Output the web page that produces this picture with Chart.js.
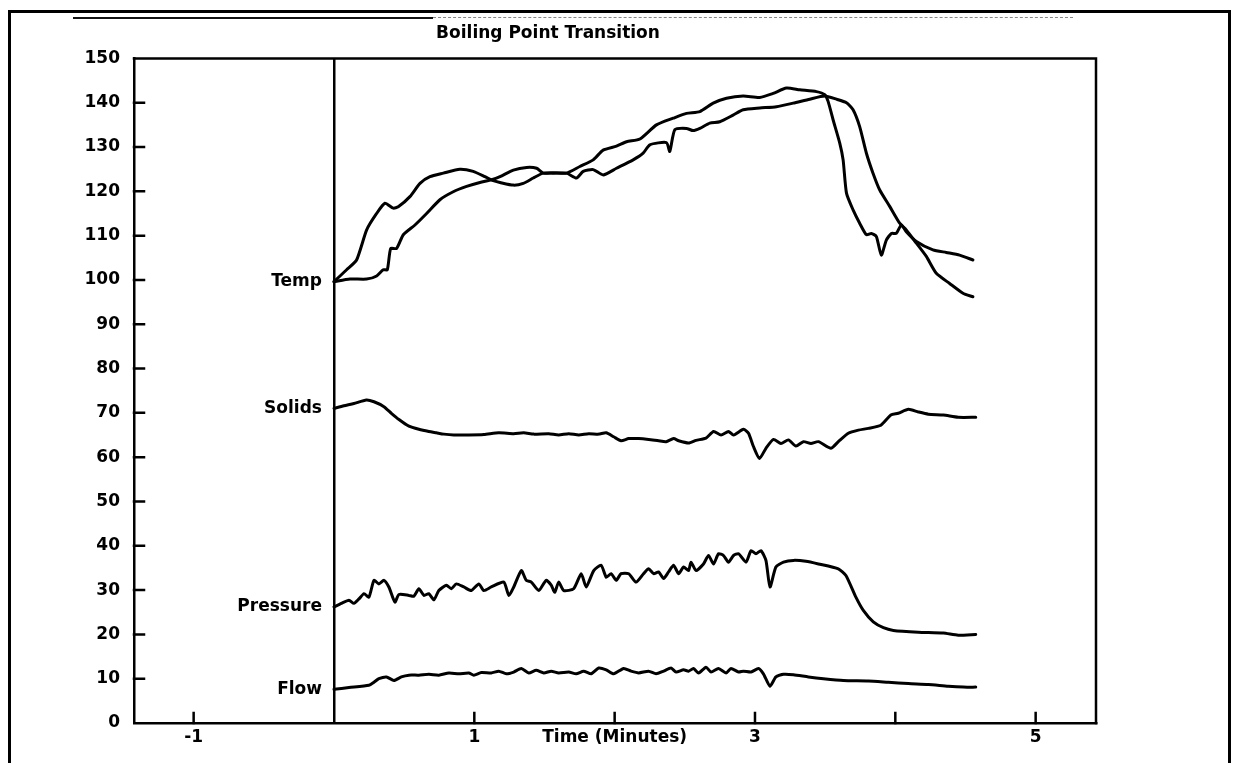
<!DOCTYPE html>
<html>
<head>
<meta charset="utf-8">
<script src="https://cdn.jsdelivr.net/npm/chart.js@4.4.1/dist/chart.umd.min.js"></script>
<style>
    html, body { margin: 0; padding: 0; background: #fff; overflow: hidden; }
    body { width: 1239px; height: 763px; position: relative; }
    #frame {
        position: absolute; left: 8px; top: 10px; width: 1217px; height: 800px;
        border: 3px solid #000; border-bottom: none;
    }
    #scan1 { position: absolute; left: 73px; top: 17px; width: 360px; border-top: 2px solid #111; }
    #scan2 { position: absolute; left: 433px; top: 17px; width: 640px; border-top: 1px dashed #888; }
    canvas { position: absolute; left: 0; top: 0; }
</style>
</head>
<body>
<div id="frame"></div>
<div id="scan1"></div>
<div id="scan2"></div>
<canvas id="chart" width="1134" height="763"></canvas>
<script>
// time in minutes
const tempAT = [0, 0.09, 0.161, 0.233, 0.304, 0.363, 0.423, 0.458, 0.541, 0.613, 0.684, 0.779, 0.897, 0.992, 1.076, 1.135, 1.183, 1.278, 1.349, 1.42, 1.491, 1.562, 1.657, 1.728, 1.776, 1.847, 1.918, 2.013, 2.132, 2.203, 2.251, 2.369, 2.393, 2.429, 2.512, 2.559, 2.607, 2.678, 2.749, 2.844, 2.916, 3.034, 3.153, 3.272, 3.39, 3.497, 3.58, 3.652, 3.699, 3.746, 3.794, 3.841, 3.889, 3.96, 4.031, 4.078, 4.15, 4.221, 4.292, 4.387, 4.482, 4.553];
const tempA  = [99.6, 102.3, 104.5, 111.3, 115.0, 117.3, 116.2, 116.5, 118.8, 121.8, 123.3, 124.1, 125.0, 124.5, 123.3, 122.4, 122.0, 121.4, 121.8, 123.0, 124.1, 124.1, 124.1, 123.0, 124.5, 124.9, 123.7, 125.2, 127.1, 128.6, 130.5, 131.0, 129.0, 133.9, 134.2, 133.7, 134.2, 135.4, 135.7, 137.2, 138.4, 138.8, 139.1, 139.9, 140.8, 141.5, 140.8, 140.0, 138.4, 134.6, 128.6, 124.1, 120.3, 116.6, 112.8, 111.3, 108.3, 105.3, 101.5, 99.2, 97.0, 96.2];

const tempBT = [0, 0.114, 0.233, 0.304, 0.351, 0.38, 0.404, 0.446, 0.494, 0.577, 0.66, 0.755, 0.85, 0.945, 1.04, 1.123, 1.183, 1.278, 1.373, 1.444, 1.491, 1.562, 1.657, 1.752, 1.847, 1.918, 2.013, 2.085, 2.18, 2.298, 2.417, 2.512, 2.607, 2.702, 2.797, 2.916, 3.034, 3.129, 3.224, 3.319, 3.438, 3.497, 3.521, 3.557, 3.604, 3.628, 3.652, 3.699, 3.746, 3.794, 3.829, 3.865, 3.9, 3.936, 3.972, 4.007, 4.043, 4.078, 4.15, 4.268, 4.363, 4.458, 4.553];
const tempB  = [99.6, 100.2, 100.2, 100.9, 102.3, 102.3, 107.1, 107.1, 110.2, 112.4, 115.0, 118.1, 119.9, 121.1, 122.0, 122.6, 123.3, 124.8, 125.4, 125.2, 124.1, 124.2, 124.1, 125.6, 127.1, 129.3, 130.2, 131.2, 131.8, 135.0, 136.5, 137.6, 138.0, 139.9, 141.0, 141.5, 141.2, 142.1, 143.3, 142.9, 142.5, 141.8, 140.3, 136.1, 130.9, 127.1, 119.6, 115.8, 112.8, 110.2, 110.5, 109.8, 105.6, 109.0, 110.5, 110.5, 112.4, 110.9, 108.7, 106.8, 106.2, 105.6, 104.5];

const solidsT = [0, 0.071, 0.142, 0.231, 0.285, 0.356, 0.409, 0.463, 0.534, 0.605, 0.676, 0.73, 0.783, 0.854, 0.961, 1.068, 1.174, 1.281, 1.352, 1.423, 1.53, 1.601, 1.673, 1.744, 1.815, 1.886, 1.94, 1.993, 2.046, 2.1, 2.171, 2.242, 2.313, 2.367, 2.42, 2.456, 2.527, 2.58, 2.651, 2.705, 2.758, 2.811, 2.847, 2.918, 2.954, 2.989, 3.032, 3.078, 3.132, 3.185, 3.238, 3.292, 3.345, 3.399, 3.452, 3.541, 3.594, 3.665, 3.737, 3.808, 3.897, 3.968, 4.021, 4.093, 4.164, 4.235, 4.342, 4.448, 4.573];
const solids  = [71.0, 71.6, 72.1, 72.9, 72.5, 71.4, 69.9, 68.5, 67.0, 66.3, 65.8, 65.5, 65.2, 65.0, 65.0, 65.1, 65.5, 65.3, 65.5, 65.2, 65.3, 65.0, 65.3, 65.0, 65.3, 65.2, 65.5, 64.6, 63.7, 64.2, 64.2, 64.0, 63.7, 63.5, 64.2, 63.7, 63.2, 63.8, 64.3, 65.8, 65.0, 65.8, 65.0, 66.3, 65.4, 62.4, 59.7, 62.0, 64.0, 63.1, 63.9, 62.5, 63.5, 63.1, 63.5, 62.0, 63.5, 65.4, 66.1, 66.5, 67.2, 69.5, 69.9, 70.8, 70.2, 69.7, 69.5, 69.0, 69.0];

const pressureT = [0, 0.053, 0.107, 0.142, 0.178, 0.214, 0.249, 0.285, 0.32, 0.356, 0.391, 0.434, 0.463, 0.534, 0.569, 0.605, 0.641, 0.676, 0.712, 0.747, 0.801, 0.836, 0.872, 0.925, 0.979, 1.032, 1.068, 1.121, 1.21, 1.246, 1.281, 1.335, 1.37, 1.406, 1.459, 1.512, 1.548, 1.573, 1.601, 1.637, 1.708, 1.762, 1.797, 1.851, 1.904, 1.94, 1.975, 2.011, 2.046, 2.1, 2.153, 2.206, 2.242, 2.278, 2.313, 2.349, 2.384, 2.42, 2.456, 2.491, 2.527, 2.544, 2.58, 2.633, 2.669, 2.705, 2.74, 2.776, 2.811, 2.847, 2.883, 2.936, 2.972, 3.007, 3.043, 3.078, 3.107, 3.149, 3.203, 3.274, 3.363, 3.452, 3.594, 3.648, 3.719, 3.772, 3.843, 3.915, 3.986, 4.164, 4.342, 4.448, 4.573];
const pressure  = [26.2, 27.0, 27.7, 27.0, 28.0, 29.2, 28.4, 32.2, 31.4, 32.2, 30.7, 27.3, 29.0, 28.8, 28.6, 30.3, 28.8, 29.2, 27.8, 29.9, 31.1, 30.3, 31.4, 30.7, 29.9, 31.4, 29.9, 30.7, 31.8, 28.8, 30.7, 34.4, 32.2, 31.8, 29.9, 32.2, 31.1, 29.5, 31.8, 29.9, 30.3, 33.7, 30.7, 34.4, 35.6, 32.9, 33.7, 32.2, 33.7, 33.7, 31.8, 33.7, 34.8, 33.7, 34.1, 32.6, 34.1, 35.6, 33.7, 35.2, 34.4, 36.3, 34.4, 35.9, 37.8, 35.9, 38.2, 37.8, 36.3, 37.8, 38.2, 36.3, 38.9, 38.2, 38.9, 36.7, 30.7, 35.2, 36.3, 36.7, 36.5, 35.9, 34.8, 33.3, 28.4, 25.4, 22.8, 21.5, 20.9, 20.5, 20.3, 19.8, 20.0];

const flowT = [0, 0.107, 0.249, 0.285, 0.32, 0.374, 0.427, 0.48, 0.534, 0.605, 0.676, 0.747, 0.819, 0.89, 0.961, 0.996, 1.05, 1.121, 1.174, 1.228, 1.281, 1.335, 1.388, 1.441, 1.495, 1.548, 1.601, 1.673, 1.726, 1.779, 1.833, 1.886, 1.94, 1.993, 2.064, 2.117, 2.171, 2.242, 2.295, 2.349, 2.402, 2.438, 2.491, 2.527, 2.562, 2.598, 2.651, 2.687, 2.74, 2.794, 2.829, 2.883, 2.918, 2.972, 3.025, 3.06, 3.107, 3.149, 3.203, 3.274, 3.381, 3.488, 3.63, 3.808, 3.95, 4.093, 4.235, 4.377, 4.484, 4.573];
const flow  = [7.6, 8.0, 8.5, 9.2, 10.0, 10.4, 9.6, 10.4, 10.8, 10.8, 11.0, 10.8, 11.3, 11.1, 11.3, 10.8, 11.4, 11.3, 11.7, 11.1, 11.5, 12.3, 11.3, 11.9, 11.3, 11.7, 11.3, 11.5, 11.1, 11.7, 11.1, 12.4, 12.0, 11.1, 12.3, 11.7, 11.3, 11.7, 11.1, 11.7, 12.4, 11.5, 12.0, 11.7, 12.3, 11.3, 12.6, 11.5, 12.3, 11.3, 12.3, 11.5, 11.7, 11.5, 12.3, 11.1, 8.3, 10.4, 11.0, 10.9, 10.4, 10.0, 9.6, 9.5, 9.2, 8.9, 8.7, 8.3, 8.1, 8.1];

const seriesNames = ['Temp', 'Solids', 'Pressure', 'Flow'];
const xLabels     = {'-1': '-1', '1': '1', '2': 'Time (Minutes)', '3': '3', '5': '5'};

const FONT = '"DejaVu Sans", sans-serif';

function toPoints(t, v) {
    return t.map((x, i) => ({x: x, y: v[i]}));
}

function lineSet(label, t, v) {
    return {
        label          : label,
        data           : toPoints(t, v),
        borderColor    : '#000',
        borderWidth    : 3,
        pointRadius    : 0,
        tension        : 0.2,
        borderJoinStyle: 'round',
        borderCapStyle : 'round'
    };
}

// top/right box edges, inward tick marks, series names by the zero line
const decor = {
    id: 'decor',
    afterDraw(chart) {
        let ctx = chart.ctx,
            a   = chart.chartArea,
            xs  = chart.scales.x,
            ys  = chart.scales.y;

        ctx.save();
        ctx.strokeStyle = '#000';
        ctx.lineWidth   = 2.5;
        ctx.lineCap     = 'square';
        ctx.beginPath();
        ctx.moveTo(a.left, a.top);
        ctx.lineTo(a.right, a.top);
        ctx.lineTo(a.right, a.bottom);
        xs.ticks.forEach(t => {
            if (t.value === 0) return;
            let px = xs.getPixelForValue(t.value);
            ctx.moveTo(px, a.bottom);
            ctx.lineTo(px, a.bottom - 10);
        });
        ys.ticks.forEach(t => {
            if (t.value <= 0 || t.value >= 150) return;
            let py = ys.getPixelForValue(t.value);
            ctx.moveTo(a.left, py);
            ctx.lineTo(a.left + 10, py);
        });
        ctx.stroke();

        ctx.font         = 'bold 17px ' + FONT;
        ctx.fillStyle    = '#000';
        ctx.textAlign    = 'right';
        ctx.textBaseline = 'middle';
        let x0 = xs.getPixelForValue(0) - 12;
        [tempA, solids, pressure, flow].forEach((v, i) => {
            ctx.fillText(seriesNames[i], x0, ys.getPixelForValue(v[0]));
        });
        ctx.restore();
    }
};

new Chart(document.getElementById('chart'), {
    type: 'line',
    data: {
        datasets: [
            lineSet('Temp A', tempAT, tempA),
            lineSet('Temp B', tempBT, tempB),
            lineSet('Solids', solidsT, solids),
            lineSet('Pressure', pressureT, pressure),
            lineSet('Flow', flowT, flow)
        ]
    },
    options: {
        responsive: false,
        devicePixelRatio: 1,
        animation: false,
        layout: {padding: {left: 0, right: 38, top: 0, bottom: 0}},
        plugins: {
            legend : {display: false},
            tooltip: {enabled: false},
            title  : {
                display: true,
                text   : 'Boiling Point Transition',
                color  : '#000',
                font   : {family: FONT, size: 17, weight: 'bold'},
                padding: {top: 23, bottom: 15}
            }
        },
        scales: {
            x: {
                type : 'linear',
                min  : -1.425,
                max  : 5.43,
                afterFit: s => { s.height = 40; },
                border: {display: true, color: '#000', width: 2.5},
                grid : {
                    drawTicks: false,
                    lineWidth: 2.5,
                    color    : c => c.tick && c.tick.value === 0 ? '#000' : 'rgba(0,0,0,0)'
                },
                ticks: {
                    stepSize     : 1,
                    includeBounds: false,
                    autoSkip     : false,
                    maxRotation  : 0,
                    padding      : 4,
                    color        : '#000',
                    font         : {family: FONT, size: 17, weight: 'bold'},
                    callback     : v => xLabels[String(v)] || ''
                }
            },
            y: {
                min: 0,
                max: 150,
                afterFit: s => { s.width = 134; },
                border: {display: true, color: '#000', width: 2.5},
                grid : {display: false, drawTicks: false},
                ticks: {
                    stepSize: 10,
                    padding : 14,
                    color   : '#000',
                    font    : {family: FONT, size: 17, weight: 'bold'}
                }
            }
        }
    },
    plugins: [decor]
});
</script>
</body>
</html>
